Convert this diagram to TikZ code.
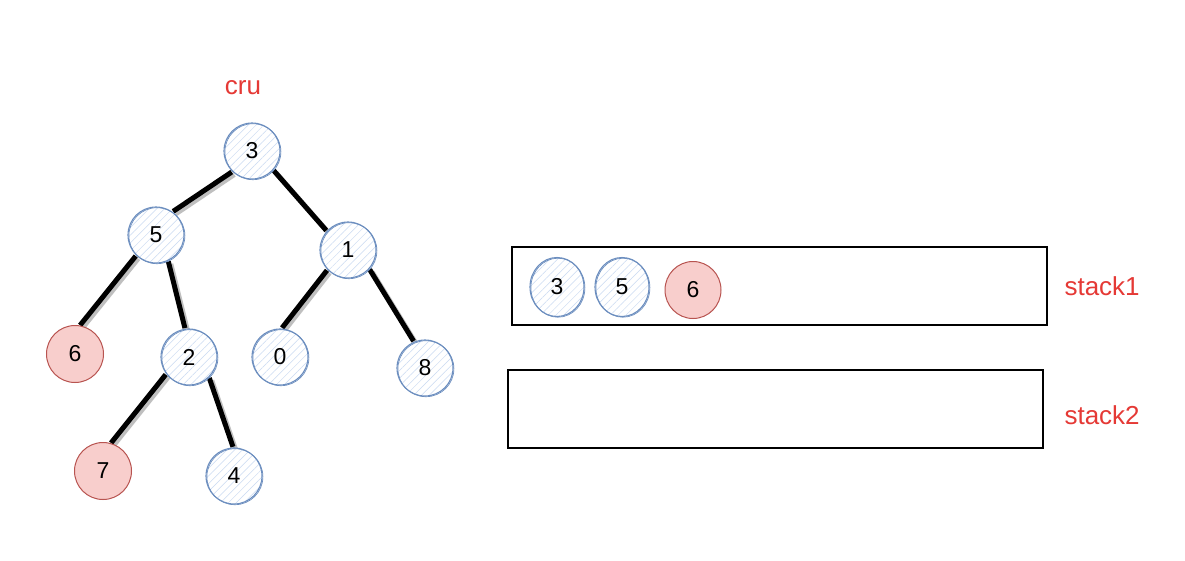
\documentclass[tikz,border=0pt]{standalone}
\usepackage{fontspec}
\setmainfont{Liberation Sans}
\usetikzlibrary{patterns.meta,shapes.geometric}
\definecolor{bstroke}{HTML}{6C8EBF}
\definecolor{bfill}{HTML}{C9DAF2}
\definecolor{rstroke}{HTML}{B85450}
\definecolor{rfill}{HTML}{F8CECC}
\definecolor{lbl}{HTML}{E53935}
\tikzset{
  hatch/.style={preaction={fill=white}, pattern={Lines[angle=45, distance=5.5pt, line width=0.5pt]}, pattern color=bfill},
  sketch/.style={postaction={draw=bstroke, line width=0.7pt, transform canvas={shift={(0.9,0.7)}}}},
  bnode/.style={circle, draw=bstroke, line width=1.1pt, minimum size=56pt, inner sep=0pt,
    hatch, sketch, font=\fontsize{23}{23}\selectfont},
  rnode/.style={circle, draw=rstroke, line width=1pt, fill=rfill, minimum size=57pt, inner sep=0pt,
    font=\fontsize{23}{23}\selectfont},
  sbnode/.style={ellipse, draw=bstroke, line width=1.1pt, minimum width=54pt, minimum height=59pt, inner sep=0pt,
    hatch, sketch, font=\fontsize{23}{23}\selectfont},
  srnode/.style={ellipse, draw=rstroke, line width=1pt, fill=rfill, minimum width=56pt, minimum height=57pt, inner sep=0pt,
    font=\fontsize{23}{23}\selectfont},
  edge/.style={line width=5pt, black,
    preaction={draw=black!25, line width=5pt, transform canvas={shift={(2.5,2.5)}}}},
  lab/.style={text=lbl, font=\fontsize{26}{26}\selectfont},
  stackbox/.style={draw=black, line width=1.1pt, minimum width=535pt, minimum height=78pt, inner sep=0pt}
}
\begin{document}
\begin{tikzpicture}[x=1pt,y=-1pt]
\useasboundingbox[fill=white] (0,0) rectangle (1185,560);
% tree node positions
\coordinate (c3) at (252,151);
\coordinate (c5) at (156,235);
\coordinate (c1) at (348,250);
\coordinate (c6) at (75,354);
\coordinate (c2) at (189,357);
\coordinate (c0) at (280,357);
\coordinate (c8) at (425,368);
\coordinate (c7) at (103,471);
\coordinate (c4) at (234,476);
% placeholders used as edge end points
\foreach \n in {3,5,1,6,2,0,8,7,4}{\node[circle, minimum size=58pt, inner sep=0pt] (n\n) at (c\n) {};}
% edges
\draw[edge] (n3.226) -- (n5.54);
\draw[edge] (n3.318) -- (n1.138);
\draw[edge] (n5.226) -- (n6.80);
\draw[edge] (n5.295) -- (n2.98);
\draw[edge] (n1.224) -- (n0.86);
\draw[edge] (n1.318) -- (n8.113);
\draw[edge] (n2.217) -- (n7.74);
\draw[edge] (n2.314) -- (n4.92);
% nodes
\node[bnode] (t3) at (c3) {3};
\node[bnode] (t5) at (c5) {5};
\node[bnode] (t1) at (c1) {1};
\node[rnode] (t6) at (c6) {6};
\node[bnode] (t2) at (c2) {2};
\node[bnode] (t0) at (c0) {0};
\node[bnode] (t8) at (c8) {8};
\node[rnode] (t7) at (c7) {7};
\node[bnode] (t4) at (c4) {4};
\node[lab] (cru) at (243,88) {cru};
% stacks
\node[stackbox] (s1) at (779.5,286) {};
\node[stackbox] (s2) at (775.5,409) {};
\node[lab, anchor=west] (l1) at (1061,286) {stack1};
\node[lab, anchor=west] (l2) at (1061,415) {stack2};
\node[sbnode] (a3) at (557,287) {3};
\node[sbnode] (a5) at (622,287) {5};
\node[srnode] (a6) at (693,290) {6};
\end{tikzpicture}
\end{document}
